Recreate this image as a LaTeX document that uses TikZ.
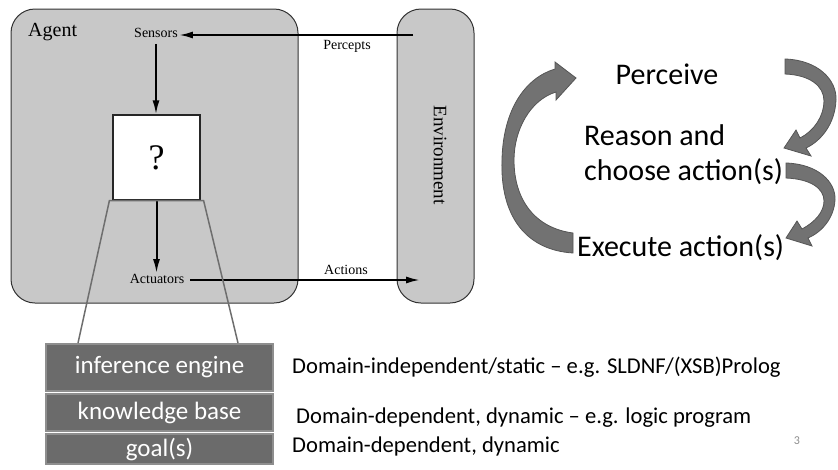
\documentclass[tikz,border=0pt]{standalone}
\usepackage{fontspec}
\setmainfont{Carlito}
\newfontfamily\aimafont{Liberation Serif}
\usetikzlibrary{arrows.meta, positioning}
\definecolor{agentgray}{HTML}{C8C8C8}
\definecolor{stackgray}{HTML}{6B6B6B}
\definecolor{stackedge}{HTML}{8E8E8E}
\definecolor{cyclegray}{HTML}{727272}
\definecolor{cycleedge}{HTML}{555555}
\definecolor{zoomgray}{HTML}{6E6E6E}
\newcommand{\setfs}[1]{\fontsize{#1}{#1}\selectfont}

\begin{document}
\begin{tikzpicture}[x=1pt, y=-1pt,
  box/.style={draw=black!80, line width=1pt, fill=agentgray, rounded corners=24pt},
  lbl/.style={font=\aimafont\setfs{14}, inner sep=1pt},
  flow/.style={line width=2pt, -{Latex[length=14pt,width=7pt]}},
  layer/.style={draw=stackedge, line width=1.5pt, fill=stackgray, text=white,
    minimum width=227pt, font=\setfs{25}, inner sep=0pt, outer sep=0pt},
  desc/.style={anchor=west, inner sep=0pt, font=\setfs{22.6}},
  cyc/.style={font=\fontsize{30}{35}\selectfont, inner sep=0pt},
  cycarrow/.style={fill=cyclegray, draw=cycleedge, line width=0.8pt}]
  \useasboundingbox (0,0) rectangle (838,469);

  % agent and environment
  \node[box, minimum width=287pt, minimum height=294pt] (agent) at (154.5,156) {};
  \node[box, minimum width=77pt, minimum height=294pt] (env) at (435.5,156) {};
  \node[anchor=west, inner sep=0pt, font=\aimafont\setfs{20}] (agentlbl) at (28,32) {Agent};
  \node[rotate=-90, inner sep=0pt, font=\aimafont\setfs{19}] (envlbl) at (440,155) {Environment};

  \node[lbl] (sensors) at (156,33) {Sensors};
  \node[lbl] (actuators) at (157,279) {Actuators};
  \node[draw=black!85, line width=1.2pt, fill=white, minimum width=87pt, minimum height=85pt,
    font=\aimafont\setfs{36}] (qbox) at (156.5,157.5) {?};
  \node[lbl] (percepts) at (347,46) {Percepts};
  \node[lbl] (actions) at (346,270) {Actions};
  \coordinate (pin) at (413,35);
  \coordinate (aout) at (420,280);

  \draw[flow] (pin) -- (pin -| sensors.east);
  \draw[flow, shorten <=5pt] (sensors.south) -- (sensors.south |- qbox.north);
  \draw[flow] (qbox.south) -- (qbox.south |- actuators.north);
  \draw[flow, shorten <=5pt] (actuators.east |- aout) -- (aout);

  % inside the box
  \node[layer, minimum height=47pt] (ie) at (159.5,367.5) {inference engine};
  \node[layer, minimum height=37pt, below=3pt of ie] (kb) {knowledge base};
  \node[layer, minimum height=30pt, below=3pt of kb] (goal) {goal(s)};
  \coordinate (tl) at (78,343);
  \coordinate (tr) at (238,343);
  \draw[zoomgray, line width=1.5pt] (tl) -- ([xshift=-3pt]qbox.south west)
    -- ([xshift=3pt]qbox.south east) -- (tr);

  \node[desc] (iedesc) at (292,367) {Domain-independent/static -- e.g. SLDNF/(XSB)Prolog};
  \node[desc] (kbdesc) at (296,418) {Domain-dependent, dynamic -- e.g. logic program};
  \node[desc] (goaldesc) at (292,446) {Domain-dependent, dynamic};
  \node[text=black!45, inner sep=0pt, font=\setfs{12}] (pagenum) at (797,441) {3};

  % cycle
  \node[cyc] (perceive) at (667,74) {Perceive};
  \node[cyc, anchor=west, align=left] (reason) at (584,155) {Reason and\\choose action(s)};
  \node[cyc, anchor=west] (execute) at (577,248) {Execute action(s)};

  \filldraw[cycarrow] (573,253) .. controls (525,250) and (500,215) .. (502,160)
    .. controls (503,110) and (525,78) .. (555,69) -- (555,62) -- (576,78) -- (556,100)
    -- (556,92) .. controls (530,100) and (514,130) .. (514,160)
    .. controls (514,200) and (535,228) .. (573,233) -- cycle;
  \filldraw[cycarrow] (785,59) .. controls (818,60) and (837,80) .. (836,100)
    .. controls (835,124) and (821,141) .. (806,148) -- (811,156) -- (784,148)
    -- (796,130) -- (800,138) .. controls (814,131) and (824,116) .. (824,101)
    .. controls (824,86) and (810,75) .. (785,74) -- cycle;
  \filldraw[cycarrow] (786,163) .. controls (818,164) and (836,182) .. (835,200)
    .. controls (834,218) and (822,232) .. (808,238) -- (812,246) -- (786,238)
    -- (797,221) -- (802,229) .. controls (815,222) and (824,212) .. (824,201)
    .. controls (824,188) and (810,179) .. (786,178) -- cycle;
\end{tikzpicture}
\end{document}
